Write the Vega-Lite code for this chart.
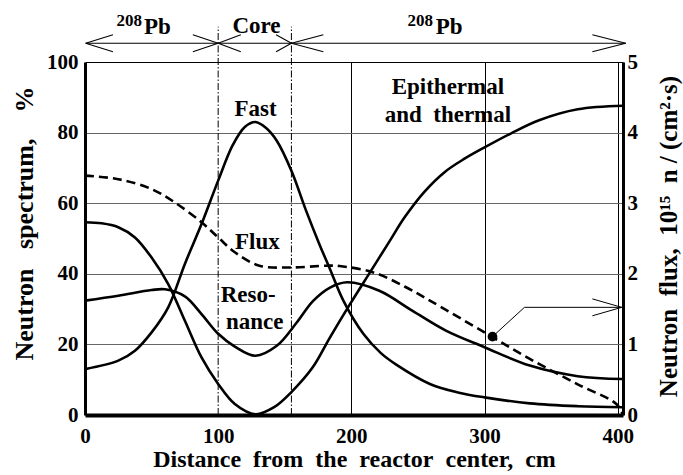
{
  "$schema": "https://vega.github.io/schema/vega-lite/v6.json",
  "width": 538,
  "height": 353,
  "autosize": {"type": "none"},
  "padding": {"left": 85, "top": 62, "right": 60, "bottom": 60},
  "background": "white",
  "config": {
    "view": {"stroke": null},
    "font": "Liberation Serif",
    "axis": {
      "labelFont": "Liberation Serif",
      "titleFont": "Liberation Serif",
      "labelFontWeight": "bold",
      "titleFontWeight": "bold",
      "labelColor": "black",
      "titleColor": "black",
      "labelFontSize": 21,
      "titleFontSize": 24,
      "ticks": false,
      "labelFlush": false,
      "labelOverlap": false,
      "domainColor": "black"
    }
  },
  "datasets": {
    "spec": [
      {"x": 0, "y": 13, "s": "Fast"}, {"x": 25, "y": 15.4, "s": "Fast"}, {"x": 37.5, "y": 18.2, "s": "Fast"}, {"x": 50, "y": 23.4, "s": "Fast"}, {"x": 62.5, "y": 30.5, "s": "Fast"}, {"x": 75, "y": 42.8, "s": "Fast"}, {"x": 87.5, "y": 54.1, "s": "Fast"}, {"x": 100, "y": 66.4, "s": "Fast"}, {"x": 111, "y": 76.5, "s": "Fast"}, {"x": 120, "y": 81.6, "s": "Fast"}, {"x": 128, "y": 83, "s": "Fast"}, {"x": 136, "y": 81.3, "s": "Fast"}, {"x": 144, "y": 77.7, "s": "Fast"}, {"x": 155, "y": 69.2, "s": "Fast"}, {"x": 166, "y": 57.9, "s": "Fast"}, {"x": 176, "y": 48.4, "s": "Fast"}, {"x": 184, "y": 41.3, "s": "Fast"}, {"x": 194, "y": 32.4, "s": "Fast"}, {"x": 209, "y": 23.0, "s": "Fast"}, {"x": 222, "y": 17.6, "s": "Fast"}, {"x": 234, "y": 14.2, "s": "Fast"}, {"x": 259, "y": 8.8, "s": "Fast"}, {"x": 280, "y": 6.4, "s": "Fast"}, {"x": 300, "y": 5.0, "s": "Fast"}, {"x": 334, "y": 3.3, "s": "Fast"}, {"x": 370, "y": 2.5, "s": "Fast"}, {"x": 404, "y": 2.2, "s": "Fast"},
      {"x": 0, "y": 32.4, "s": "Resonance"}, {"x": 25, "y": 33.8, "s": "Resonance"}, {"x": 50, "y": 35.4, "s": "Resonance"}, {"x": 60, "y": 35.6, "s": "Resonance"}, {"x": 75, "y": 33.6, "s": "Resonance"}, {"x": 87.5, "y": 28.6, "s": "Resonance"}, {"x": 100, "y": 23, "s": "Resonance"}, {"x": 112.5, "y": 19.4, "s": "Resonance"}, {"x": 128, "y": 16.8, "s": "Resonance"}, {"x": 144, "y": 19.6, "s": "Resonance"}, {"x": 159, "y": 26.2, "s": "Resonance"}, {"x": 171, "y": 32.2, "s": "Resonance"}, {"x": 184, "y": 36.1, "s": "Resonance"}, {"x": 197, "y": 37.6, "s": "Resonance"}, {"x": 221, "y": 35.2, "s": "Resonance"}, {"x": 246, "y": 29.5, "s": "Resonance"}, {"x": 271, "y": 23.9, "s": "Resonance"}, {"x": 300, "y": 19.2, "s": "Resonance"}, {"x": 334, "y": 14.0, "s": "Resonance"}, {"x": 370, "y": 11.0, "s": "Resonance"}, {"x": 404, "y": 10.2, "s": "Resonance"},
      {"x": 0, "y": 54.6, "s": "Epithermal"}, {"x": 12.5, "y": 54.3, "s": "Epithermal"}, {"x": 25, "y": 53.2, "s": "Epithermal"}, {"x": 37.5, "y": 50.3, "s": "Epithermal"}, {"x": 50, "y": 44.6, "s": "Epithermal"}, {"x": 62.5, "y": 37.1, "s": "Epithermal"}, {"x": 75, "y": 26.7, "s": "Epithermal"}, {"x": 87.5, "y": 16.3, "s": "Epithermal"}, {"x": 100, "y": 8.8, "s": "Epithermal"}, {"x": 112.5, "y": 3.1, "s": "Epithermal"}, {"x": 128, "y": 0.2, "s": "Epithermal"}, {"x": 142, "y": 2.2, "s": "Epithermal"}, {"x": 155, "y": 6.5, "s": "Epithermal"}, {"x": 171, "y": 13.5, "s": "Epithermal"}, {"x": 184, "y": 22, "s": "Epithermal"}, {"x": 199, "y": 31.4, "s": "Epithermal"}, {"x": 214, "y": 40.4, "s": "Epithermal"}, {"x": 229, "y": 49.4, "s": "Epithermal"}, {"x": 240, "y": 56, "s": "Epithermal"}, {"x": 255, "y": 63.3, "s": "Epithermal"}, {"x": 270, "y": 68.8, "s": "Epithermal"}, {"x": 285, "y": 72.6, "s": "Epithermal"}, {"x": 300, "y": 75.8, "s": "Epithermal"}, {"x": 320, "y": 79.8, "s": "Epithermal"}, {"x": 341, "y": 83.5, "s": "Epithermal"}, {"x": 370, "y": 86.6, "s": "Epithermal"}, {"x": 404, "y": 87.6, "s": "Epithermal"}
    ],
    "flux": [
      {"x": 0, "f": 3.39}, {"x": 25, "f": 3.34}, {"x": 50, "f": 3.2}, {"x": 67.5, "f": 3.01}, {"x": 87.5, "f": 2.73}, {"x": 100, "f": 2.515}, {"x": 112.5, "f": 2.305}, {"x": 131, "f": 2.115}, {"x": 155, "f": 2.09}, {"x": 181, "f": 2.115}, {"x": 191, "f": 2.11}, {"x": 216.5, "f": 2.02}, {"x": 240, "f": 1.82}, {"x": 259, "f": 1.62}, {"x": 300, "f": 1.17}, {"x": 334, "f": 0.795}, {"x": 370, "f": 0.435}, {"x": 399, "f": 0.155}, {"x": 404, "f": 0.0}
    ],
    "topsegs": [
      {"x": 0.5, "y": 105.3, "x2": 406, "y2": 105.3},
      {"x": 0.5, "y": 105.3, "x2": 21, "y2": 107.7},
      {"x": 0.5, "y": 105.3, "x2": 21, "y2": 102.9},
      {"x": 81, "y": 107.7, "x2": 100, "y2": 105.3},
      {"x": 81, "y": 102.9, "x2": 100, "y2": 105.3},
      {"x": 100, "y": 105.3, "x2": 117, "y2": 107.7},
      {"x": 100, "y": 105.3, "x2": 117, "y2": 102.9},
      {"x": 143.5, "y": 107.7, "x2": 155, "y2": 105.3},
      {"x": 143.5, "y": 102.9, "x2": 155, "y2": 105.3},
      {"x": 155, "y": 105.3, "x2": 179, "y2": 107.7},
      {"x": 155, "y": 105.3, "x2": 179, "y2": 102.9},
      {"x": 381, "y": 107.7, "x2": 406, "y2": 105.3},
      {"x": 381, "y": 102.9, "x2": 406, "y2": 105.3}
    ],
    "boundaries": [{"x": 100, "y": 0, "y2": 110}, {"x": 155, "y": 0, "y2": 110}],
    "labels": [
      {"x": 128, "y": 84.8, "t": "Fast"},
      {"x": 129.4, "y": 47, "t": "Flux"},
      {"x": 122.5, "y": 31.9, "t": "Reso-"},
      {"x": 127.5, "y": 24.4, "t": "nance"},
      {"x": 272.5, "y": 90.8, "t": "Epithermal"},
      {"x": 272.5, "y": 82.9, "t": "and\u00a0\u00a0thermal"},
      {"x": 128.8, "y": 108.2, "t": "Core"}
    ],
    "pb": [{"x": 44.3, "y": 107.9, "t": "Pb"}, {"x": 263.3, "y": 107.9, "t": "Pb"}],
    "iso": [{"x": 42.8, "y": 110.3, "t": "208"}, {"x": 261.4, "y": 110.3, "t": "208"}],
    "marker": [{"x": 306, "f": 1.11}],
    "leader": [
      {"x": 306, "f": 1.11, "x2": 330, "f2": 1.525},
      {"x": 330, "f": 1.525, "x2": 403, "f2": 1.525},
      {"x": 381, "f": 1.645, "x2": 403, "f2": 1.525},
      {"x": 381, "f": 1.405, "x2": 403, "f2": 1.525}
    ]
  },
  "encoding": {
    "x": {
      "field": "x", "type": "quantitative",
      "scale": {"domain": [0, 404], "nice": false, "zero": false},
      "axis": {
        "values": [0, 100, 200, 300, 400],
        "title": "Distance\u00a0\u00a0from\u00a0\u00a0the\u00a0\u00a0reactor\u00a0\u00a0center,\u00a0\u00a0cm",
        "domainWidth": 4,
        "labelPadding": 10,
        "grid": true,
        "gridColor": {"condition": {"test": "datum.value >= 200", "value": "black"}, "value": "transparent"},
        "gridWidth": 1,
        "gridOpacity": 1,
        "titleY": 51,
        "titleBaseline": "alphabetic"
      }
    }
  },
  "layer": [
    {
      "encoding": {
        "y": {
          "field": "y", "type": "quantitative",
          "scale": {"domain": [0, 100], "nice": false},
          "axis": {
            "values": [0, 20, 40, 60, 80, 100],
            "title": "Neutron\u00a0\u00a0\u00a0spectrum,\u00a0\u00a0\u00a0\u00a0%",
            "domainWidth": 3,
            "labelPadding": 7,
            "grid": true,
            "gridColor": {"condition": {"test": "datum.value == 100", "value": "black"}, "value": "#666666"},
            "gridWidth": 1,
            "gridOpacity": 1,
            "titleX": -53,
            "titleY": 161,
            "titleAngle": 270,
            "titleAlign": "center",
            "titleBaseline": "alphabetic",
            "titleFontSize": 26
          }
        }
      },
      "layer": [
        {
          "data": {"name": "spec"},
          "mark": {"type": "line", "interpolate": "catmull-rom", "strokeWidth": 2.6, "color": "black"},
          "encoding": {"detail": {"field": "s"}}
        },
        {
          "data": {"name": "boundaries"},
          "mark": {"type": "rule", "color": "black", "strokeWidth": 1, "strokeDash": [7, 2, 1.5, 2]},
          "encoding": {"y2": {"field": "y2"}}
        },
        {
          "data": {"name": "topsegs"},
          "mark": {"type": "rule", "color": "black", "strokeWidth": 1.1},
          "encoding": {"x2": {"field": "x2"}, "y2": {"field": "y2"}}
        },
        {
          "data": {"name": "labels"},
          "mark": {"type": "text", "font": "Liberation Serif", "fontWeight": "bold", "fontSize": 23, "align": "center", "baseline": "alphabetic", "color": "black"},
          "encoding": {"text": {"field": "t"}}
        },
        {
          "data": {"name": "pb"},
          "mark": {"type": "text", "font": "Liberation Serif", "fontWeight": "bold", "fontSize": 23, "align": "left", "baseline": "alphabetic", "color": "black"},
          "encoding": {"text": {"field": "t"}}
        },
        {
          "data": {"name": "iso"},
          "mark": {"type": "text", "font": "Liberation Serif", "fontWeight": "bold", "fontSize": 17, "align": "right", "baseline": "alphabetic", "color": "black"},
          "encoding": {"text": {"field": "t"}}
        }
      ]
    },
    {
      "encoding": {
        "y": {
          "field": "f", "type": "quantitative",
          "scale": {"domain": [0, 5], "nice": false},
          "axis": {
            "orient": "right",
            "values": [0, 1, 2, 3, 4, 5],
            "title": "Neutron\u00a0\u00a0flux,\u00a0\u00a010\u00b9\u2075\u00a0\u00a0n\u00a0/\u00a0(cm\u00b2\u00b7s)",
            "domainWidth": 3,
            "labelPadding": 4,
            "grid": false,
            "titleX": 53,
            "titleY": 174,
            "titleAngle": 270,
            "titleAlign": "center",
            "titleBaseline": "alphabetic",
            "titleFontSize": 25
          }
        }
      },
      "layer": [
        {
          "data": {"name": "flux"},
          "mark": {"type": "line", "interpolate": "catmull-rom", "strokeWidth": 2.6, "color": "black", "strokeDash": [9, 5]}
        },
        {
          "data": {"name": "leader"},
          "mark": {"type": "rule", "color": "black", "strokeWidth": 1},
          "encoding": {"x2": {"field": "x2"}, "y2": {"field": "f2"}}
        },
        {
          "data": {"name": "marker"},
          "mark": {"type": "circle", "color": "black", "opacity": 1, "size": 95}
        }
      ]
    }
  ],
  "resolve": {"scale": {"y": "independent"}}
}
